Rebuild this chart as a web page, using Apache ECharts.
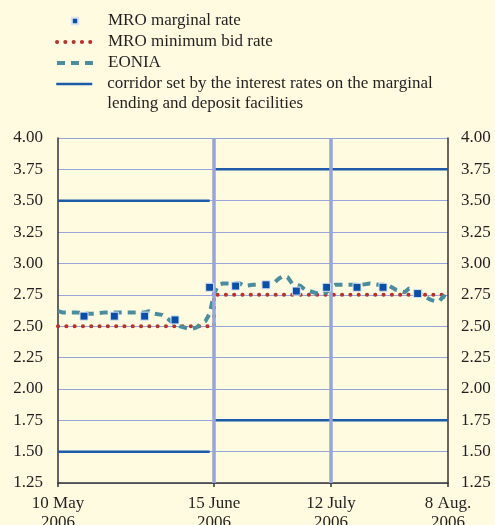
<!DOCTYPE html>
<html><head><meta charset="utf-8">
<script src="https://cdn.jsdelivr.net/npm/echarts@6/dist/echarts.min.js"></script>
<style>html,body{margin:0;padding:0;background:#fefbe1}#c{width:495px;height:525px}</style>
</head><body><div id="c"></div><script>
// x axis: days since 10 May 2006
const xTickDays = [0, 36, 63, 90];
const xTickLabels = ['10 May\n2006', '15 June\n2006', '12 July\n2006', '8 Aug.\n2006'];
const policyLineDays = [36, 63];

const marginalDays  = [6, 13, 20, 27, 35, 41, 48, 55, 62, 69, 75, 83];
const marginalRates = [2.58, 2.58, 2.58, 2.55, 2.81, 2.82, 2.83, 2.78, 2.81, 2.81, 2.81, 2.76];

const bidDays  = [0, 36, 90];
const bidRates = [2.50, 2.75, 2.75];

const eoniaDays  = [0, 1, 4, 7, 8, 11, 14, 15, 18, 20, 21, 22, 24, 25, 26, 27, 28, 29, 30, 31, 32, 33, 34, 35, 36, 37, 38, 40, 42, 43, 45, 47, 49, 50, 51, 52, 53, 54, 56, 57, 58, 60, 61, 62, 63, 64, 66, 68, 70, 72, 74, 76, 77, 78, 79, 80, 81, 82, 83, 84, 85, 86, 87, 88, 89, 90];
const eoniaRates = [2.62, 2.61, 2.61, 2.60, 2.60, 2.61, 2.61, 2.61, 2.61, 2.61, 2.62, 2.60, 2.59, 2.57, 2.54, 2.52, 2.50, 2.49, 2.48, 2.48, 2.49, 2.52, 2.54, 2.60, 2.76, 2.83, 2.84, 2.84, 2.84, 2.82, 2.83, 2.83, 2.84, 2.85, 2.88, 2.90, 2.89, 2.84, 2.82, 2.79, 2.78, 2.76, 2.76, 2.77, 2.81, 2.83, 2.83, 2.83, 2.83, 2.84, 2.83, 2.83, 2.81, 2.79, 2.78, 2.77, 2.80, 2.79, 2.77, 2.75, 2.73, 2.71, 2.70, 2.70, 2.74, 2.72];

const corridorStart = [0, 36];
const corridorEnd   = [35, 90];
const corridorUpper = [3.50, 3.75];
const corridorLower = [1.50, 1.75];

const NAME_MARG = 'MRO marginal rate';
const NAME_BID = 'MRO minimum bid rate';
const NAME_EONIA = 'EONIA';
const NAME_COR = 'corridor set by the interest rates on the marginal\nlending and deposit facilities';

function corridorData(rates) {
  const out = [];
  rates.forEach((r, i) => {
    out.push([corridorStart[i], r]);
    out.push([corridorEnd[i], r]);
    out.push([corridorEnd[i] + 0.5, '-']);
  });
  return out;
}

const FONT = "'Liberation Serif', 'Times New Roman', serif";
const TXT = '#231f20';
const C_BID = '#b5322d', C_EONIA = '#4b8d9d', C_COR = '#1d5aa8', C_MARG = '#0a4fa3';

const chart = echarts.init(document.getElementById('c'), null, {renderer: 'canvas'});
chart.setOption({
  backgroundColor: '#fefbe1',
  animation: false,
  textStyle: {fontFamily: FONT},
  legend: [{
    left: 55, top: 12.5, padding: 0, orient: 'vertical', itemWidth: 36, itemHeight: 8, itemGap: 4,
    selectedMode: false,
    textStyle: {fontFamily: FONT, fontSize: 17, color: TXT, padding: [0, 0, 0, 10]},
    data: [
      {name: NAME_MARG},
      {name: NAME_BID, itemStyle: {opacity: 0}, lineStyle: {width: 4, color: C_BID, type: [0.1, 8.2], cap: 'round'}},
      {name: NAME_EONIA, itemStyle: {opacity: 0}, lineStyle: {width: 4, color: C_EONIA, type: [8, 6]}}
    ]
  }, {
    left: 55, top: 54, padding: 0, orient: 'vertical', itemWidth: 36, itemHeight: 8,
    selectedMode: false,
    formatter: n => '\n' + n,
    textStyle: {fontFamily: FONT, fontSize: 17, lineHeight: 20, color: TXT, padding: [0, 0, 0, 10]},
    data: [{name: NAME_COR, itemStyle: {opacity: 0}, lineStyle: {width: 2.5, color: C_COR}}]
  }],
  grid: {left: 58, right: 47, top: 138, bottom: 42, containLabel: false, outerBoundsMode: 'none'},
  xAxis: {
    type: 'value', min: 0, max: 90,
    axisLine: {show: true, onZero: false, lineStyle: {color: '#333', width: 1.5}},
    axisTick: {show: true, length: 4, customValues: xTickDays, lineStyle: {color: '#333', width: 1.5}},
    axisLabel: {
      customValues: xTickDays, fontFamily: FONT, fontSize: 17, lineHeight: 19, color: TXT, margin: 11,
      formatter: v => xTickLabels[xTickDays.indexOf(v)]
    },
    splitLine: {show: false}
  },
  yAxis: [{
    type: 'value', min: 1.25, max: 4.00, interval: 0.25, position: 'left',
    axisLine: {show: true, lineStyle: {color: '#333', width: 1.5}},
    axisTick: {show: false},
    axisLabel: {fontFamily: FONT, fontSize: 17, color: TXT, margin: 15, formatter: v => v.toFixed(2)},
    splitLine: {show: true, lineStyle: {color: '#98a5da', width: 1}}
  }, {
    type: 'value', min: 1.25, max: 4.00, interval: 0.25, position: 'right',
    axisLine: {show: true, lineStyle: {color: '#333', width: 1.5}},
    axisTick: {show: false},
    axisLabel: {fontFamily: FONT, fontSize: 17, color: TXT, margin: 13, formatter: v => v.toFixed(2)},
    splitLine: {show: false}
  }],
  series: [{
    name: NAME_COR, type: 'line', data: corridorData(corridorUpper), symbol: 'none', connectNulls: false,
    lineStyle: {color: C_COR, width: 2.5}, itemStyle: {color: C_COR}, z: 2,
    markLine: {
      silent: true, symbol: ['none', 'none'], label: {show: false},
      lineStyle: {color: '#98a5da', width: 3.5, type: 'solid'},
      data: policyLineDays.map(d => ({xAxis: d}))
    }
  }, {
    name: NAME_COR, type: 'line', data: corridorData(corridorLower), symbol: 'none', connectNulls: false,
    lineStyle: {color: C_COR, width: 2.5}, itemStyle: {color: C_COR}, z: 2
  }, {
    name: NAME_BID, type: 'line', step: 'end', data: bidDays.map((d, i) => [d, bidRates[i]]), symbol: 'none',
    lineStyle: {color: C_BID, width: 4, type: [0.1, 8.2], cap: 'round'}, itemStyle: {color: C_BID}, z: 3
  }, {
    name: NAME_EONIA, type: 'line', data: eoniaDays.map((d, i) => [d, eoniaRates[i]]), symbol: 'none',
    lineStyle: {color: C_EONIA, width: 4, type: [8, 6]}, itemStyle: {color: C_EONIA}, z: 4
  }, {
    name: NAME_MARG, type: 'line', data: marginalDays.map((d, i) => [d, marginalRates[i]]),
    symbol: 'rect', symbolSize: 8, showSymbol: true, showAllSymbol: true,
    lineStyle: {opacity: 0, width: 0},
    itemStyle: {color: C_MARG, borderColor: '#dbe4f4', borderWidth: 1}, z: 5
  }]
});
</script></body></html>
